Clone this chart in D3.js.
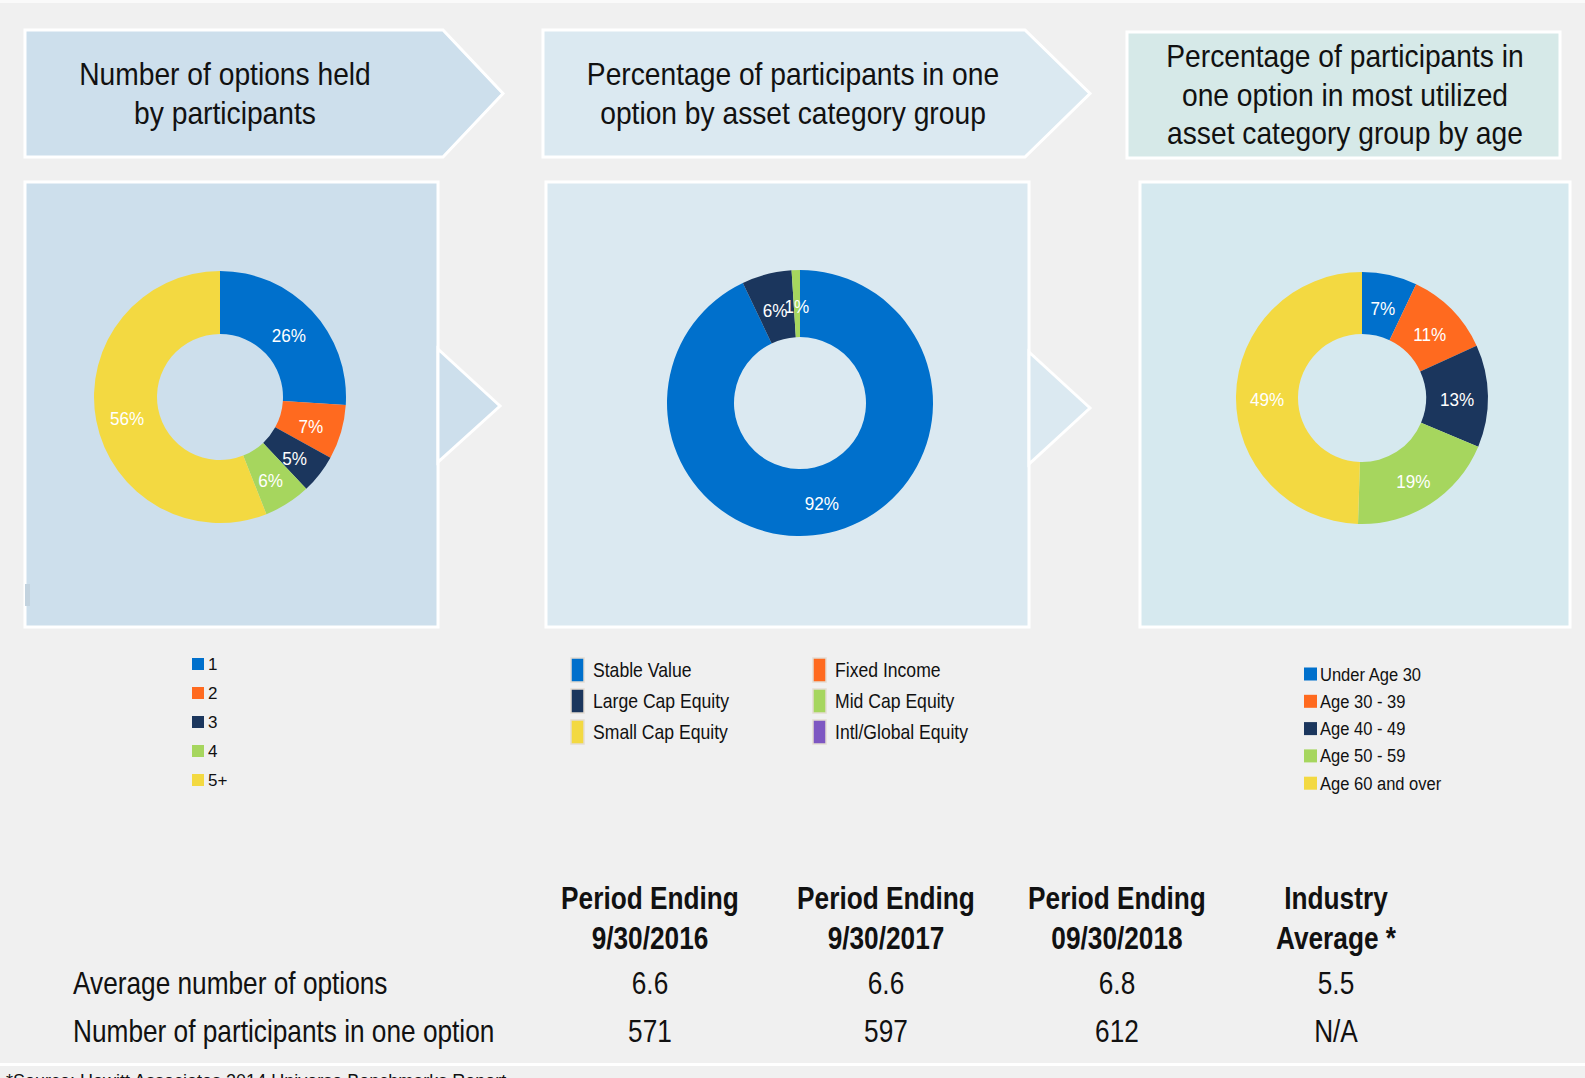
<!DOCTYPE html>
<html>
<head>
<meta charset="utf-8">
<script src="https://cdn.jsdelivr.net/npm/d3@7"></script>
<style>
  body { margin: 0; background: #f0f0f0; }
  svg { display: block; }
</style>
</head>
<body>
<div id="chart"></div>
<script>
// data
var optionCats = ["1", "2", "3", "4", "5+"];
var optionPct = [26, 7, 5, 6, 56];

var assetCats = ["Stable Value", "Fixed Income", "Large Cap Equity", "Mid Cap Equity", "Small Cap Equity", "Intl/Global Equity"];
var assetPct = [92, 0, 6, 1, 0, 0];

var ageCats = ["Under Age 30", "Age 30 - 39", "Age 40 - 49", "Age 50 - 59", "Age 60 and over"];
var agePct = [7, 11, 13, 19, 49];

var tableCols = [["Period Ending", "9/30/2016"], ["Period Ending", "9/30/2017"], ["Period Ending", "09/30/2018"], ["Industry", "Average *"]];
var tableRows = ["Average number of options", "Number of participants in one option"];
var avgOptions = ["6.6", "6.6", "6.8", "5.5"];
var oneOption = ["571", "597", "612", "N/A"];

var colors = ["#0070cc", "#ff6a1f", "#1b365d", "#a6d65e", "#f3d941", "#7e57c2"];

var W = 1585, H = 1078;
var sans = "'Liberation Sans', Arial, sans-serif";

var svg = d3.select("#chart").append("svg")
    .attr("width", W)
    .attr("height", H);

svg.append("rect").attr("width", W).attr("height", H).attr("fill", "#f0f0f0");
svg.append("rect").attr("width", W).attr("height", 3).attr("fill", "#fafafa");

// no narrow font installed, so squeeze regular text horizontally
function narrowText(parent, x, y, txt, size, sx, anchor, weight) {
  return parent.append("text")
    .attr("transform", "translate(" + x + "," + y + ") scale(" + sx + ",1)")
    .attr("text-anchor", anchor || "start")
    .attr("font-family", sans)
    .attr("font-size", size)
    .attr("font-weight", weight || "normal")
    .attr("fill", "#111")
    .text(txt);
}

// header shapes
function arrowPts(x0, y0, x1, y1, tip) {
  var ym = (y0 + y1) / 2;
  return [[x0, y0], [x1, y0], [tip, ym], [x1, y1], [x0, y1]].map(p => p.join(",")).join(" ");
}
var headers = [
  {pts: arrowPts(25, 30, 443, 157, 503), fill: "#cddfec", cx: 225, lines: ["Number of options held", "by participants"], y0: 85},
  {pts: arrowPts(543, 30, 1025, 157, 1090), fill: "#dbe9f1", cx: 793, lines: ["Percentage of participants in one", "option by asset category group"], y0: 85},
  {pts: arrowPts(1127, 32, 1560, 158, 1560), fill: "#d6e9e8", cx: 1345, lines: ["Percentage of participants in", "one option in most utilized", "asset category group by age"], y0: 67}
];
headers.forEach(function(h) {
  svg.append("polygon").attr("points", h.pts).attr("fill", h.fill)
    .attr("stroke", "#ffffff").attr("stroke-width", 3);
  h.lines.forEach(function(l, i) {
    narrowText(svg, h.cx, h.y0 + i * 38.5, l, 31, 0.91, "middle");
  });
});

// panels + small arrows
var panels = [
  {x: 25, y: 182, w: 413, h: 445, fill: "#cddfec"},
  {x: 546, y: 182, w: 483, h: 445, fill: "#dbe9f1"},
  {x: 1140, y: 182, w: 430, h: 445, fill: "#d6e9ef"}
];
panels.forEach(function(p) {
  svg.append("rect").attr("x", p.x).attr("y", p.y).attr("width", p.w).attr("height", p.h)
    .attr("fill", p.fill).attr("stroke", "#ffffff").attr("stroke-width", 3);
});
svg.append("rect").attr("x", 25).attr("y", 584).attr("width", 5).attr("height", 22).attr("fill", "#c3d3df");
svg.append("polygon").attr("points", "438,349 500,406 438,462").attr("fill", "#cddfec")
  .attr("stroke", "#ffffff").attr("stroke-width", 3);
svg.append("polygon").attr("points", "1029,352 1090,408 1029,464").attr("fill", "#dbe9f1")
  .attr("stroke", "#ffffff").attr("stroke-width", 3);

// donuts
function donut(values, cols, cx, cy, rOut, rIn) {
  var pie = d3.pie().sort(null).value(d => d);
  var arc = d3.arc().innerRadius(rIn).outerRadius(rOut);
  var labelArc = d3.arc().innerRadius((rIn + rOut) / 2).outerRadius((rIn + rOut) / 2);
  var g = svg.append("g").attr("transform", "translate(" + cx + "," + cy + ")");
  var arcs = pie(values);
  g.selectAll("path").data(arcs).enter().append("path")
    .attr("d", arc)
    .attr("fill", (d, i) => cols[i]);
  g.selectAll("text").data(arcs.filter(d => d.data > 0)).enter().append("text")
    .attr("transform", d => "translate(" + labelArc.centroid(d) + ") scale(0.9,1)")
    .attr("text-anchor", "middle")
    .attr("dy", "0.52em")
    .attr("font-family", sans)
    .attr("font-size", 19)
    .attr("fill", "#ffffff")
    .text(d => d.data + "%");
}
donut(optionPct, colors, 220, 397, 126, 63);
donut(assetPct, colors, 800, 403, 133, 66);
donut(agePct, colors, 1362, 398, 126, 64);

// legend 1
var leg1 = svg.append("g");
optionCats.forEach(function(c, i) {
  var y = 664 + i * 29;
  leg1.append("rect").attr("x", 192).attr("y", y - 6).attr("width", 12).attr("height", 12).attr("fill", colors[i]);
  leg1.append("text").attr("x", 208).attr("y", y).attr("dy", "0.36em")
    .attr("font-family", sans).attr("font-size", 17).attr("fill", "#111").text(c);
});

// legend 2 (two columns)
var leg2 = svg.append("g");
assetCats.forEach(function(c, i) {
  var col = i % 2, row = Math.floor(i / 2);
  var x = col === 0 ? 571 : 813;
  var y = 670 + row * 31;
  leg2.append("rect").attr("x", x).attr("y", y - 12).attr("width", 13).attr("height", 24)
    .attr("fill", colors[i]).attr("stroke", "#e3dcd2").attr("stroke-width", 1.5);
  narrowText(leg2, x + 22, y + 7, c, 20, 0.88);
});

// legend 3
var leg3 = svg.append("g");
ageCats.forEach(function(c, i) {
  var y = 674 + i * 27.3;
  leg3.append("rect").attr("x", 1304).attr("y", y - 6.5).attr("width", 13).attr("height", 13).attr("fill", colors[i]);
  narrowText(leg3, 1320, y + 6.5, c, 19, 0.87);
});

// table
var colX = d3.scaleOrdinal().domain(d3.range(tableCols.length)).range([650, 886, 1117, 1336]);
tableCols.forEach(function(c, i) {
  c.forEach(function(line, j) {
    narrowText(svg, colX(i), 909 + j * 40, line, 32, 0.82, "middle", "bold");
  });
});
var rowY = [994, 1042];
tableRows.forEach(function(r, j) {
  narrowText(svg, 73, rowY[j], r, 32, 0.82);
});
[avgOptions, oneOption].forEach(function(vals, j) {
  vals.forEach(function(v, i) {
    narrowText(svg, colX(i), rowY[j], v, 32, 0.82, "middle");
  });
});

// footer line + clipped source note
svg.append("rect").attr("x", 0).attr("y", 1063).attr("width", W).attr("height", 3).attr("fill", "#ffffff");
svg.append("text").attr("x", 6).attr("y", 1087)
  .attr("font-family", sans).attr("font-size", 18).attr("fill", "#111")
  .text("*Source: Hewitt Associates 2014 Universe Benchmarks Report");
</script>
</body>
</html>
